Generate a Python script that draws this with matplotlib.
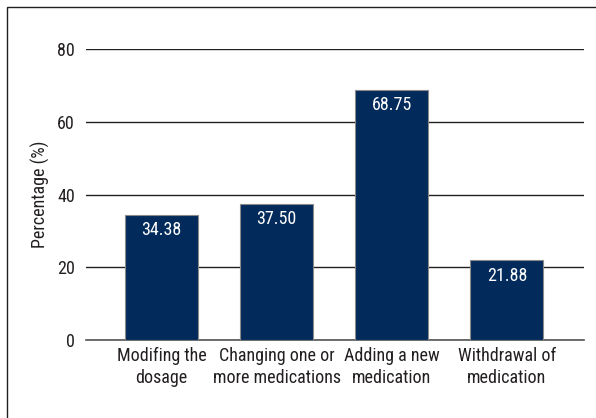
import matplotlib
matplotlib.use("Agg")
import matplotlib.pyplot as plt
from matplotlib.patches import Rectangle
from matplotlib import font_manager

categories = ["Modifing the\ndosage", "Changing one or\nmore medications", "Adding a new\nmedication", "Withdrawal of\nmedication"]
values = [34.38, 37.50, 68.75, 21.88]
value_labels = ["34.38", "37.50", "68.75", "21.88"]
yticks = [0, 20, 40, 60, 80]

names = {f.name for f in font_manager.fontManager.ttflist}
fam = []
for n in ["Roboto Condensed", "Liberation Sans Narrow", "DejaVu Sans Condensed", "Open Sans Condensed"]:
    if n in names:
        fam.append(n)
fam += ["Liberation Sans", "DejaVu Sans"]
plt.rcParams['font.family'] = fam

W, H = 596, 418
fig = plt.figure(figsize=(W/100, H/100), dpi=100)
ax = fig.add_axes([86/W, 1-340/H, (584-86)/W, (340-49)/H])

x = list(range(len(values)))
ax.bar(x, values, width=0.635, color="#022b5b", edgecolor="#8a8a8a", linewidth=0.8, zorder=3)
ax.set_xlim(-0.657, 3.67)
ax.set_ylim(0, 80)
ax.set_yticks(yticks)
ax.set_yticklabels([str(t) for t in yticks], fontsize=13, color="#231f20")
ax.set_xticks(x)
ax.set_xticklabels(categories, fontsize=13, color="#231f20", linespacing=1.3)
ax.tick_params(axis='x', length=0, pad=5)
ax.tick_params(axis='y', length=0, pad=8)
ax.grid(axis='y', color="#231f20", linewidth=1.0, zorder=0)
for s in ["top", "right", "left"]:
    ax.spines[s].set_visible(False)
ax.spines["bottom"].set_color("#555555")
ax.spines["bottom"].set_linewidth(1.2)
ax.set_ylabel("Percentage (%)", fontsize=13, color="#231f20", labelpad=5)

for xi, v, lab in zip(x, values, value_labels):
    ax.text(xi, v - 1.8, lab, ha='center', va='top', color='white', fontsize=13, zorder=4)

fig.patches.append(Rectangle((7/W, -0.1), 1.2, 1 - 7/H + 0.1, transform=fig.transFigure,
                             fill=False, edgecolor="#231f20", linewidth=1.0))
fig.savefig("out.png", dpi=100)
